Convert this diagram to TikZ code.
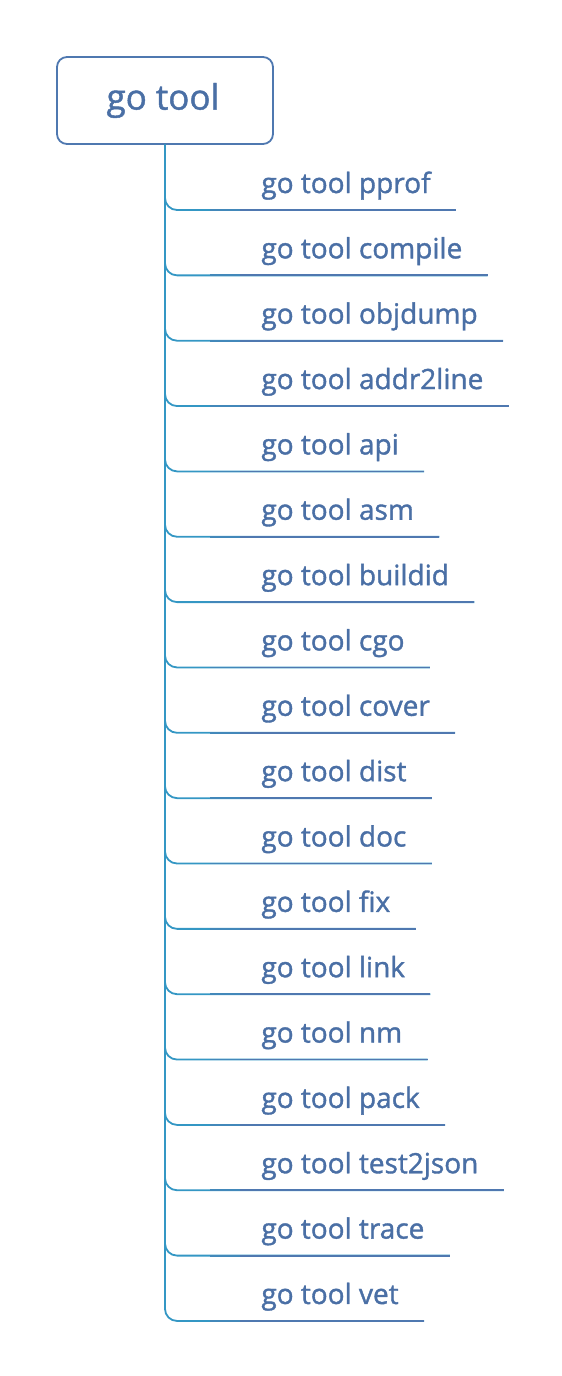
\documentclass[tikz,border=0pt]{standalone}
\usepackage{fontspec}
\setmainfont{Open Sans}[BoldFont={Open Sans}, BoldFeatures={FakeBold=1.3}]
\usetikzlibrary{positioning, calc}

\definecolor{toolblue}{HTML}{4A6FA5}
\definecolor{linkblue}{HTML}{4F78B0}
\definecolor{trunkteal}{HTML}{3497C4}

\begin{document}
\begin{tikzpicture}[
  x=0.5pt, y=-0.5pt,
  rootbox/.style={draw=linkblue, line width=0.9pt, rounded corners=5pt,
    minimum width=108pt, minimum height=43.5pt, text=toolblue,
    font=\fontsize{17.5}{20}\selectfont\bfseries},
  toolname/.style={anchor=base west, inner sep=0pt, text=toolblue,
    font=\fontsize{14}{17}\selectfont\bfseries},
  branch/.style={draw=trunkteal, line width=0.9pt, rounded corners=6pt},
  underline/.style={draw=linkblue, line width=0.9pt}
]
\useasboundingbox (0,0) rectangle (562,1376);

\node[rootbox] (root) at (165,100.5) {\hspace*{-2pt}\raisebox{-1.5pt}{go tool}};

% one branch per subcommand
\foreach \name [count=\i] in {pprof, compile, objdump, addr2line, api, asm,
    buildid, cgo, cover, dist, doc, fix, link, nm, pack, test2json, trace, vet} {
  \node[toolname] (t\i) at (261,{193+(\i-1)*65.35}) {go tool \name};
  \coordinate (e\i) at ($(t\i.base east)+(25,17)$);
  \draw[branch] (root.south) |- (e\i);
  \draw[draw=trunkteal!50!linkblue, line width=0.9pt]
    ($(root.south |- e\i)+(45,0)$) -- ($(root.south |- e\i)+(75,0)$);
  \draw[underline] ($(root.south |- e\i)+(75,0)$) -- (e\i);
}
\end{tikzpicture}
\end{document}
